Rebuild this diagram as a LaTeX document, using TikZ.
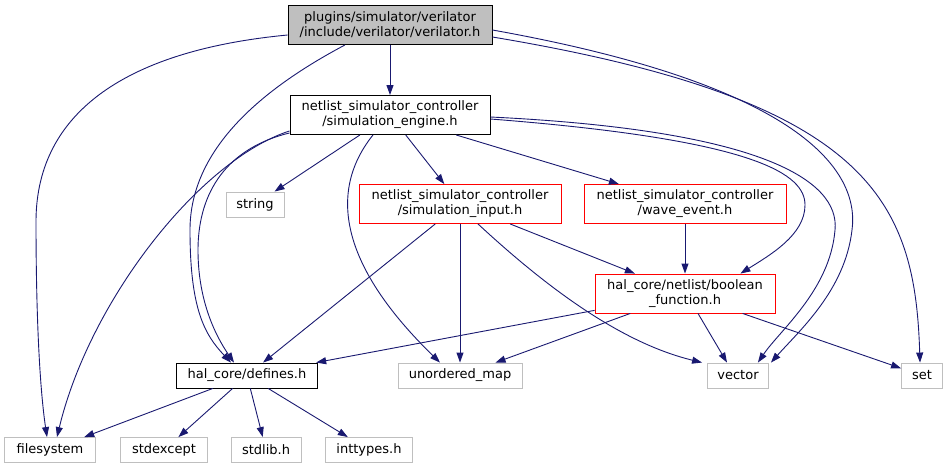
\documentclass[tikz,border=0pt]{standalone}
\usepackage{fontspec}
\setmainfont{DejaVu Sans}
\usetikzlibrary{arrows.meta}
\definecolor{edgeblue}{HTML}{191970}
\definecolor{boxgray}{HTML}{BFBFBF}

\begin{document}
\begin{tikzpicture}[x=1pt, y=-1pt,
  hdr/.style={draw=black, fill=white, line width=0.9pt,
              font=\fontsize{13}{15}\selectfont, align=center,
              inner sep=2pt, minimum height=25pt},
  roothdr/.style={hdr, fill=boxgray, minimum height=39pt},
  twohdr/.style={hdr, minimum height=39pt},
  redhdr/.style={hdr, draw=red, minimum height=39pt},
  syshdr/.style={hdr, draw=boxgray},
  arr/.style={-{Triangle[length=10pt, width=7pt]}, edgeblue, line width=0.9pt}
]
\useasboundingbox (0,0) rectangle (949,469);

%% Top: the verilator header and the engine it pulls in
\node[roothdr, minimum width=204pt] (verilator) at (390,25)
  {plugins/simulator/verilator\\/include/verilator/verilator.h};
\node[twohdr, minimum width=200pt] (engine) at (390,115)
  {netlist\_simulator\_controller\\/simulation\_engine.h};

%% Middle row
\node[syshdr, minimum width=58pt] (string) at (255,204.5) {string};
\node[redhdr, minimum width=202pt] (siminput) at (460,204)
  {netlist\_simulator\_controller\\/simulation\_input.h};
\node[redhdr, minimum width=202pt] (wave) at (685,204)
  {netlist\_simulator\_controller\\/wave\_event.h};
\node[redhdr, minimum width=180pt] (boolean) at (685,293.5)
  {hal\_core/netlist/boolean\\\_function.h};

%% Row of defines.h and the system headers
\node[hdr, minimum width=141pt] (defines) at (247,375.5) {hal\_core/defines.h};
\node[syshdr, minimum width=124pt] (umap) at (460,375.5) {unordered\_map};
\node[syshdr, minimum width=61pt] (vector) at (738,375.5) {vector};
\node[syshdr, minimum width=41pt] (set) at (922,375.5) {set};

%% Bottom row
\node[syshdr, minimum width=91pt] (filesystem) at (50,450) {filesystem};
\node[syshdr, minimum width=87pt] (stdexcept) at (164,450) {stdexcept};
\node[syshdr, minimum width=70pt] (stdlib) at (266,450) {stdlib.h};
\node[syshdr, minimum width=87pt] (inttypes) at (369,450) {inttypes.h};

%% Includes of verilator.h
\draw[arr] (verilator) -- (engine);
\draw[arr] ([yshift=-10pt]verilator.west) .. controls (130,50) and (37,110) .. (36,220)
  .. controls (36,320) and (40,390) .. ([xshift=-3pt]filesystem.north);
\draw[arr] ([xshift=-45pt]verilator.south) .. controls (260,90) and (190,150) .. (190,230)
  .. controls (190,310) and (205,335) .. ([xshift=-16pt]defines.north);
\draw[arr] ([yshift=-5pt]verilator.east) .. controls (800,85) and (860,170) .. (852,230)
  .. controls (845,290) and (800,330) .. ([xshift=2pt]vector.north east);
\draw[arr] ([yshift=-12pt]verilator.east) .. controls (870,100) and (915,200) .. ([xshift=-2pt]set.north);

%% Includes of simulation_engine.h
\draw[arr] ([yshift=2pt]engine.south west) .. controls (220,150) and (198,200) .. (198,250)
  .. controls (198,300) and (215,335) .. ([xshift=-13pt]defines.north);
\draw[arr] ([yshift=4pt]engine.south west) .. controls (200,160) and (90,300) .. ([xshift=7pt]filesystem.north);
\draw[arr] (engine) -- (string);
\draw[arr] ([xshift=-17pt]engine.south) .. controls (325,195) and (345,270) .. ([xshift=-20pt]umap.north);
\draw[arr] (engine) -- (siminput);
\draw[arr] (engine) -- (wave);
\draw[arr] ([yshift=-4pt]engine.east) .. controls (760,140) and (805,175) .. (805,205)
  .. controls (805,235) and (770,255) .. ([xshift=-35pt]boolean.north east);
\draw[arr] ([yshift=-2pt]engine.east) .. controls (760,130) and (840,180) .. (835,230)
  .. controls (830,290) and (780,330) .. ([xshift=-11pt]vector.north east);

%% Includes of simulation_input.h and wave_event.h
\draw[arr] (siminput) -- (defines);
\draw[arr] (siminput) -- (umap);
\draw[arr] ([xshift=18pt]siminput.south) .. controls (560,300) and (630,345) .. ([xshift=-5pt]vector.north west);
\draw[arr] (siminput) -- (boolean);
\draw[arr] (wave) -- (boolean);

%% Includes of boolean_function.h
\draw[arr] (boolean) -- (defines);
\draw[arr] (boolean) -- (umap);
\draw[arr] ([xshift=13pt]boolean.south) -- ([xshift=-11pt]vector.north);
\draw[arr] (boolean) -- (set);

%% Includes of defines.h
\draw[arr] (defines) -- (filesystem);
\draw[arr] (defines) -- (stdexcept);
\draw[arr] (defines) -- (stdlib);
\draw[arr] (defines) -- (inttypes);
\end{tikzpicture}
\end{document}
